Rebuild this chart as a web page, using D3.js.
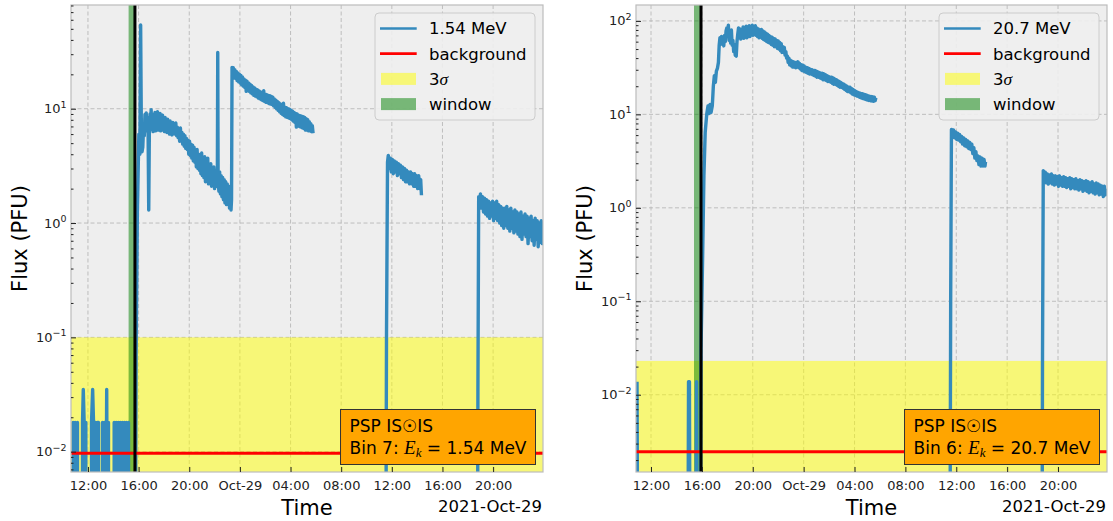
<!DOCTYPE html>
<html>
<head>
<meta charset="utf-8">
<script src="https://cdnjs.cloudflare.com/ajax/libs/d3/7.8.5/d3.min.js"></script>
<style>
body { margin: 0; background: #fff; }
svg { display: block; font-family: "DejaVu Sans", sans-serif; }
</style>
</head>
<body>
<div id="main"></div>
<script>
// [hours since 2021-10-28 00:00 UT, flux in PFU]; 0 = no counts, null = data gap
var flux154 = [
    [10.83,0],[10.83,0.018],[10.91,0],[10.99,0.018],[11.07,0],[11.17,0.018],[11.17,0],
    [11.57,0],[11.57,0.018],[11.63,0.035],[11.70,0.018],[11.77,0],[11.83,0.018],[11.83,0],
    [12.28,0],[12.28,0.018],[12.37,0.035],[12.44,0.018],[12.52,0],[12.60,0.018],[12.68,0],[12.76,0.018],[12.83,0.018],[12.83,0],
    [13.15,0],[13.15,0.018],[13.23,0],[13.31,0.018],[13.39,0],[13.48,0.035],[13.55,0],[13.62,0.018],[13.62,0],
    [14.07,0],[14.07,0.018],[14.15,0],[14.23,0.018],[14.31,0],[14.39,0.018],[14.47,0],[14.55,0.018],[14.63,0],[14.71,0.018],[14.79,0],[14.87,0.018],[14.95,0],[15.03,0.018],[15.11,0],[15.20,0.018],[15.20,0],
    [15.74,0],[15.80,0.07],[15.90,1.2],[16.02,6],[16.10,4],[16.16,54],[16.22,6],[16.27,4.2],[16.33,4.6],
    [16.40,7.4],[16.45,5.8],[16.50,8.9],[16.55,6.4],[16.60,9.2],[16.65,6.9],[16.70,8.4],[16.75,6.0],[16.80,1.3],[16.85,6.6],[16.90,9.0],[16.95,6.8],[16.99,9.8],
    [17.04,6.6],[17.09,8.9],[17.14,6.3],[17.19,8.6],[17.24,7.0],[17.29,9.3],[17.34,6.4],[17.39,8.4],[17.44,6.8],[17.49,9.4],[17.54,6.5],[17.59,8.2],[17.64,7.0],[17.69,9.1],[17.74,6.4],[17.79,8.7],[17.84,6.9],[17.89,8.8],[17.94,6.5],[17.99,8.3],
    [18.04,6.3],[18.09,8.4],[18.14,6.6],[18.19,7.9],[18.24,6.2],[18.29,8.1],[18.34,6.3],[18.39,7.7],[18.44,6.0],[18.49,7.8],[18.54,6.1],[18.59,7.4],[18.64,5.9],
    [18.70,7.6],[18.76,6.3],[18.82,7.2],[18.88,6.0],[18.94,7.5],[19.00,5.8],[19.06,6.9],[19.12,5.6],[19.18,6.6],[19.24,5.2],[19.30,6.8],[19.36,5.4],[19.42,6.2],[19.48,4.9],[19.54,6.0],[19.60,4.7],[19.66,5.8],[19.72,4.5],[19.78,5.5],[19.84,4.4],[19.90,5.3],[19.96,4.0],
    [20.02,5.2],[20.08,3.9],[20.14,4.9],[20.20,3.7],[20.26,4.8],[20.32,3.5],[20.38,4.6],[20.44,3.4],[20.50,4.2],[20.56,3.1],[20.62,4.4],[20.68,3.0],[20.74,4.0],[20.80,2.9],[20.86,3.9],[20.92,2.7],[20.98,4.1],
    [21.04,2.6],[21.10,3.6],[21.16,2.5],[21.22,3.8],[21.28,2.3],[21.34,3.4],[21.40,2.4],[21.46,3.7],[21.52,2.2],[21.58,3.2],[21.64,2.3],[21.70,3.3],[21.76,2.1],[21.82,3.0],[21.88,2.2],[21.94,3.1],
    [22.00,2.0],[22.06,2.9],[22.12,2.1],[22.18,2.8],[22.22,2.6],[22.25,31],[22.28,2.4],[22.34,1.9],[22.40,2.8],[22.46,1.8],[22.52,2.6],[22.58,1.7],[22.64,2.5],[22.70,1.6],[22.76,2.4],[22.82,1.5],[22.88,2.3],[22.94,1.45],
    [23.00,2.2],[23.06,1.5],[23.12,2.1],[23.18,1.35],[23.24,1.9],[23.30,1.3],[23.34,1.6],[23.38,23],
    [23.43,19.0],[23.48,22.8],[23.54,18.6],[23.60,22.0],[23.66,18.4],[23.72,21.2],[23.78,17.6],[23.84,20.6],[23.90,17.2],[23.96,20.0],
    [24.02,16.8],[24.08,19.6],[24.14,16.2],[24.20,19.0],[24.26,15.8],[24.32,18.2],[24.38,15.4],[24.44,17.8],[24.50,14.2],[24.56,17.4],[24.62,14.6],[24.68,16.8],[24.74,14.2],[24.80,16.4],[24.86,13.8],[24.92,16.0],[24.98,13.5],
    [25.04,15.5],[25.10,13.1],[25.16,15.2],[25.22,12.9],[25.28,14.8],[25.34,12.7],[25.40,14.6],[25.46,12.4],[25.52,14.3],[25.58,12.2],[25.64,14.0],[25.70,12.0],[25.76,13.8],[25.82,11.8],[25.88,14.4],[25.94,11.6],
    [26.00,13.4],[26.06,11.4],[26.12,13.3],[26.18,11.3],[26.24,13.1],[26.30,11.1],[26.36,13.0],[26.42,11.0],[26.48,12.8],[26.54,10.9],[26.60,12.6],[26.66,10.6],[26.72,12.2],[26.78,10.3],[26.84,11.9],[26.90,10.0],[26.96,11.6],
    [27.02,9.7],[27.08,11.3],[27.14,9.4],[27.20,11.0],[27.26,9.1],[27.32,10.7],[27.38,8.9],[27.44,11.2],[27.50,8.7],[27.56,10.3],[27.62,8.5],[27.68,10.2],[27.74,8.4],[27.80,10.0],[27.86,8.3],[27.92,9.9],[27.98,8.2],
    [28.04,9.7],[28.10,8.0],[28.16,9.5],[28.22,7.8],[28.28,9.3],[28.34,7.6],[28.40,9.1],[28.46,6.9],[28.52,9.0],[28.58,7.2],[28.64,8.8],[28.70,7.0],[28.76,8.7],[28.82,6.9],[28.88,8.6],[28.94,6.8],
    [29.00,8.5],[29.06,6.7],[29.12,8.4],[29.18,6.5],[29.24,8.2],[29.30,6.5],[29.36,8.0],[29.42,6.4],[29.48,7.7],[29.54,6.4],[29.60,7.4],[29.66,6.3],[29.72,7.1],[29.78,6.1],[29.82,null],
    [35.52,0],[35.58,0.11],[35.66,3.4],[35.72,3.9],[35.80,3.0],[35.88,3.7],[35.96,2.8],[36.04,3.6],[36.12,2.7],[36.20,3.5],[36.28,2.8],[36.36,3.4],[36.44,2.6],[36.52,3.3],[36.60,2.7],[36.68,3.2],[36.76,2.5],[36.84,3.1],[36.92,2.4],
    [37.00,3.0],[37.08,2.3],[37.16,2.9],[37.24,2.3],[37.32,2.8],[37.40,2.2],[37.48,2.8],[37.56,2.2],[37.64,2.7],[37.72,2.1],[37.80,2.7],[37.88,2.1],[37.96,2.6],
    [38.04,2.0],[38.12,2.6],[38.20,2.0],[38.28,2.4],[38.34,1.75],[38.38,null],
    [42.76,0],[42.80,0.035],[42.86,1.7],[42.92,1.45],[43.00,1.8],[43.08,1.35],[43.16,1.7],[43.24,1.25],[43.32,1.65],[43.40,1.2],[43.48,1.6],[43.56,1.15],[43.64,1.55],[43.72,1.1],[43.80,1.5],[43.88,1.15],[43.96,1.55],
    [44.04,1.05],[44.12,1.5],[44.20,1.1],[44.28,1.55],[44.36,1.05],[44.44,1.45],[44.52,1.0],[44.60,1.4],[44.68,0.95],[44.76,1.35],[44.84,0.9],[44.92,1.35],
    [45.00,0.95],[45.08,1.4],[45.16,0.9],[45.24,1.3],[45.32,0.85],[45.40,1.35],[45.48,0.9],[45.56,1.25],[45.64,0.82],[45.72,1.3],[45.80,0.85],[45.88,1.25],[45.96,0.8],
    [46.04,1.2],[46.12,0.76],[46.20,1.25],[46.28,0.72],[46.36,1.15],[46.44,0.8],[46.52,1.2],[46.60,0.76],[46.68,1.15],[46.76,0.66],[46.84,1.1],[46.92,0.76],
    [47.00,1.15],[47.08,0.7],[47.16,1.05],[47.24,0.64],[47.32,1.1],[47.40,0.72],[47.48,1.05],[47.56,0.62],[47.64,1.0],[47.72,0.68],[47.80,1.05],[47.88,0.66],[47.96,0.95]
];

var flux207 = [
    [10.90,0.0138],[10.96,0],[14.90,0],[14.95,0.0138],[15.02,0.0138],[15.07,0],[15.52,0],[15.58,0.0138],[15.64,0],
    [15.88,0],[15.93,0.03],[16.06,0.31],[16.16,2.2],[16.26,6.4],[16.38,10],[16.48,12.3],[16.56,10.2],[16.64,12.8],[16.72,10.5],[16.82,12.4],[16.90,20],[16.98,26],
    [17.06,22],[17.14,29],[17.22,31],[17.30,36],[17.36,55],[17.42,66],[17.48,56],[17.54,68],[17.60,58],[17.66,66],[17.72,54],[17.78,70],[17.84,60],[17.90,78],[17.96,84],
    [18.02,72],[18.08,90],[18.14,62],[18.20,76],[18.26,58],[18.32,80],[18.38,55],[18.44,62],[18.50,47],[18.56,56],[18.62,43],[18.70,42],[18.76,60],
    [18.82,72],[18.88,84],[18.94,66],[19.00,82],[19.06,64],[19.12,78],[19.18,66],[19.24,86],[19.30,65],[19.36,80],[19.42,68],[19.48,88],[19.54,66],[19.60,82],[19.66,70],[19.72,89],[19.78,68],[19.84,84],[19.90,72],[19.96,90],
    [20.02,70],[20.08,86],[20.14,72],[20.20,89],[20.26,70],[20.32,84],[20.38,68],[20.44,82],[20.50,66],[20.56,80],[20.62,67],[20.68,81],[20.74,65],[20.80,78],[20.86,63],[20.92,76],[20.98,62],
    [21.04,74],[21.10,60],[21.16,72],[21.22,59],[21.28,70],[21.34,58],[21.40,68],[21.46,56],[21.52,67],[21.58,55],[21.64,65],[21.70,53],[21.76,64],[21.82,53],[21.88,62],[21.94,51],
    [22.00,61],[22.06,50],[22.12,59],[22.18,48],[22.24,57],[22.30,46],[22.36,53],[22.42,46],[22.48,52],[22.54,43],[22.60,47],[22.66,40],[22.72,42],[22.78,36],[22.84,40],[22.90,34],[22.96,38],
    [23.02,33],[23.08,37],[23.14,32],[23.20,36.5],[23.26,32],[23.32,36],[23.38,31.5],[23.44,36],[23.50,32],[23.56,36.5],[23.62,31.5],[23.68,35],[23.74,30.5],[23.80,34],[23.86,29.5],[23.92,33.5],[23.98,29],
    [24.04,33],[24.10,28.5],[24.16,32],[24.22,28],[24.28,31.5],[24.34,27.5],[24.40,31],[24.46,27],[24.52,30.5],[24.58,27],[24.64,30],[24.70,26.5],[24.76,29.5],[24.82,26],[24.88,29.5],[24.94,25.5],
    [25.00,29],[25.06,25],[25.12,28.5],[25.18,25],[25.24,28],[25.30,24.5],[25.36,27.5],[25.42,24],[25.48,27.5],[25.54,23.5],[25.60,27],[25.66,23.5],[25.72,26.5],[25.78,23],[25.84,26],[25.90,22.5],[25.96,25.5],
    [26.02,22.5],[26.08,25],[26.14,22],[26.20,25],[26.26,21.5],[26.32,24.5],[26.38,21],[26.44,24],[26.50,21],[26.56,23.5],[26.62,20.5],[26.68,23],[26.74,20],[26.80,22.5],[26.86,19.5],[26.92,22],[26.98,19.5],
    [27.04,21.5],[27.10,19],[27.16,21],[27.22,18.5],[27.28,20.5],[27.34,18],[27.40,20],[27.46,17.5],[27.52,19.5],[27.58,17.5],[27.64,19.5],[27.70,17],[27.76,19],[27.82,16.5],[27.88,18.5],[27.94,16.2],
    [28.00,18],[28.06,16],[28.12,17.6],[28.18,15.7],[28.24,17.3],[28.30,15.5],[28.36,17],[28.42,15.2],[28.48,16.8],[28.54,15],[28.60,16.6],[28.66,14.8],[28.72,16.4],[28.78,14.6],[28.84,16.2],[28.90,14.4],[28.96,16],
    [29.02,14.2],[29.08,15.8],[29.14,14.1],[29.20,15.6],[29.26,14],[29.32,15.5],[29.38,13.9],[29.44,15.4],[29.50,13.8],[29.56,15.3],[29.62,14],[29.68,15],[29.72,null],
    [35.50,0],[35.56,0.1],[35.62,6.9],[35.70,5.8],[35.78,6.8],[35.86,5.6],[35.94,6.5],[36.02,5.4],[36.10,6.3],[36.18,5.3],[36.26,6.1],[36.34,5.1],[36.42,5.8],[36.50,4.8],[36.58,5.6],[36.66,4.6],[36.74,5.4],[36.82,4.5],[36.90,5.2],[36.98,4.3],
    [37.06,5.0],[37.14,4.2],[37.22,4.8],[37.30,3.8],[37.38,4.4],[37.46,3.4],[37.54,4.0],[37.62,3.2],[37.70,3.6],[37.78,2.9],[37.86,3.5],[37.94,2.8],
    [38.02,3.4],[38.10,2.8],[38.18,3.3],[38.26,2.8],[38.30,3.1],[38.34,null],
    [42.74,0],[42.78,0.0266],[42.84,2.5],[42.92,2.0],[43.00,2.4],[43.08,1.85],[43.16,2.3],[43.24,1.8],[43.32,2.25],[43.40,1.85],[43.48,2.3],[43.56,1.8],[43.64,2.2],[43.72,1.75],[43.80,2.2],[43.88,1.8],[43.96,2.15],
    [44.04,1.7],[44.12,2.2],[44.20,1.75],[44.28,2.1],[44.36,1.7],[44.44,2.15],[44.52,1.7],[44.60,2.1],[44.68,1.65],[44.76,2.05],[44.84,1.7],[44.92,2.1],
    [45.00,1.6],[45.08,2.05],[45.16,1.65],[45.24,2.0],[45.32,1.6],[45.40,2.05],[45.48,1.6],[45.56,1.95],[45.64,1.55],[45.72,2.0],[45.80,1.6],[45.88,1.95],[45.96,1.5],
    [46.04,1.9],[46.12,1.55],[46.20,1.95],[46.28,1.5],[46.36,1.9],[46.44,1.45],[46.52,1.85],[46.60,1.5],[46.68,1.9],[46.76,1.45],[46.84,1.8],[46.92,1.4],
    [47.00,1.85],[47.08,1.45],[47.16,1.8],[47.24,1.38],[47.32,1.75],[47.40,1.4],[47.48,1.7],[47.56,1.32],[47.64,1.7],[47.72,1.38],[47.80,1.6]
];

var bins = [7, 6];
var energies = ["1.54", "20.7"];
var background = [0.0097, 0.00245];
var threeSigma = [0.1, 0.023];
var windows = [[15.21, 15.71], [15.38, 15.93]];
var onsets = [15.71, 15.93];
var timeRanges = [[10.66, 47.94], [10.82, 47.85]];
var fluxRanges = [[0.00664, 80.8], [0.00149, 148]];
var decades = [[-2, -1, 0, 1], [-2, -1, 0, 1, 2]];
var tickHours = [12, 16, 20, 24, 28, 32, 36, 40, 44];
var tickLabels = ["12:00", "16:00", "20:00", "Oct-29", "04:00", "08:00", "12:00", "16:00", "20:00"];
var dateLabel = "2021-Oct-29";

var ctx = {
    w: 1113,
    h: 521,
    top: 5,
    bottom: 472,
    left: [71, 636],
    right: [543, 1107],
    BLUE: "#348ABD",
    SERIF: "'Liberation Serif', 'DejaVu Serif', serif"
};

var drawPanel = function(i, series){
    var x0 = ctx.left[i], x1 = ctx.right[i];
    var g = d3.select("svg").append("g");
    var x = d3.scaleLinear().domain(timeRanges[i]).range([x0, x1]);
    var y = d3.scaleLog().domain(fluxRanges[i]).range([ctx.bottom, ctx.top]);
    var floor = fluxRanges[i][0] / 20;

    g.append("clipPath").attr("id", "clip" + i)
        .append("rect")
        .attr("x", x0).attr("y", ctx.top)
        .attr("width", x1 - x0).attr("height", ctx.bottom - ctx.top);
    g.append("rect")
        .attr("x", x0).attr("y", ctx.top)
        .attr("width", x1 - x0).attr("height", ctx.bottom - ctx.top)
        .attr("fill", "#eeeeee");

    // dashed grid
    var grid = g.append("g")
        .attr("stroke", "#b2b2b2")
        .attr("stroke-width", 0.8)
        .attr("stroke-dasharray", "4,2.5");
    grid.selectAll(".vg").data(tickHours).enter().append("line")
        .attr("x1", function(d){ return x(d); })
        .attr("x2", function(d){ return x(d); })
        .attr("y1", ctx.top).attr("y2", ctx.bottom);
    grid.selectAll(".hg").data(decades[i]).enter().append("line")
        .attr("x1", x0).attr("x2", x1)
        .attr("y1", function(d){ return y(Math.pow(10, d)); })
        .attr("y2", function(d){ return y(Math.pow(10, d)); });

    var plot = g.append("g").attr("clip-path", "url(#clip" + i + ")");
    // 3 sigma band
    plot.append("rect")
        .attr("x", x0).attr("width", x1 - x0)
        .attr("y", y(threeSigma[i]))
        .attr("height", ctx.bottom - y(threeSigma[i]))
        .attr("fill", "yellow").attr("fill-opacity", 0.5);
    // window
    plot.append("rect")
        .attr("x", x(windows[i][0]))
        .attr("width", x(windows[i][1]) - x(windows[i][0]))
        .attr("y", ctx.top).attr("height", ctx.bottom - ctx.top)
        .attr("fill", "green").attr("fill-opacity", 0.5);
    // flux
    var line = d3.line()
        .defined(function(d){ return d[1] !== null; })
        .x(function(d){ return x(d[0]); })
        .y(function(d){ return y(Math.max(d[1], floor)); });
    plot.append("path").datum(series)
        .attr("d", line)
        .attr("fill", "none")
        .attr("stroke", ctx.BLUE)
        .attr("stroke-width", 3.4)
        .attr("stroke-linejoin", "round");
    // background level
    plot.append("line")
        .attr("x1", x0).attr("x2", x1)
        .attr("y1", y(background[i])).attr("y2", y(background[i]))
        .attr("stroke", "red").attr("stroke-width", 3);
    // onset
    plot.append("line")
        .attr("x1", x(onsets[i])).attr("x2", x(onsets[i]))
        .attr("y1", ctx.top).attr("y2", ctx.bottom)
        .attr("stroke", "black").attr("stroke-width", 3);

    // frame
    g.append("rect")
        .attr("x", x0).attr("y", ctx.top)
        .attr("width", x1 - x0).attr("height", ctx.bottom - ctx.top)
        .attr("fill", "none").attr("stroke", "#bcbcbc").attr("stroke-width", 1.2);

    // x axis
    var xg = g.append("g")
        .attr("transform", "translate(0," + ctx.bottom + ")")
        .style("color", "#222")
        .call(d3.axisBottom(x).tickValues(tickHours).tickSize(-5).tickPadding(9)
            .tickFormat(function(d, k){ return tickLabels[k]; }));
    xg.select(".domain").remove();
    xg.selectAll("text")
        .style("font-family", "DejaVu Sans")
        .style("font-size", "13px")
        .attr("fill", "#222");

    // y axis, major and minor
    var minors = [];
    for (var e = decades[i][0] - 1; e <= decades[i][decades[i].length - 1]; e++){
        for (var m = 2; m < 10; m++){
            var v = m * Math.pow(10, e);
            if (v > fluxRanges[i][0] && v < fluxRanges[i][1]) minors.push(v);
        }
    }
    var ymg = g.append("g")
        .attr("transform", "translate(" + x0 + ",0)")
        .style("color", "#222")
        .call(d3.axisLeft(y).tickValues(minors).tickSize(-2.5).tickFormat(""));
    ymg.select(".domain").remove();
    var yg = g.append("g")
        .attr("transform", "translate(" + x0 + ",0)")
        .style("color", "#222")
        .call(d3.axisLeft(y).tickValues(decades[i].map(function(d){ return Math.pow(10, d); }))
            .tickSize(-5).tickFormat(""));
    yg.select(".domain").remove();
    var yl = g.selectAll(".ylab").data(decades[i]).enter().append("text")
        .attr("x", x0 - 4.5)
        .attr("y", function(d){ return y(Math.pow(10, d)) + 4.5; })
        .attr("text-anchor", "end")
        .attr("fill", "#222")
        .style("font-size", "13px");
    yl.append("tspan").text("10");
    yl.append("tspan")
        .attr("dy", -5.5)
        .style("font-size", "9.5px")
        .text(function(d){ return d < 0 ? "\u2212" + (-d) : String(d); });

    // axis labels
    g.append("text")
        .attr("x", (x0 + x1) / 2).attr("y", 515)
        .attr("text-anchor", "middle")
        .style("font-size", "21px")
        .text("Time");
    g.append("text")
        .attr("x", x1 - 1).attr("y", 511.5)
        .attr("text-anchor", "end")
        .style("font-size", "16.5px")
        .text(dateLabel);
    g.append("text")
        .attr("transform", "translate(" + (x0 - 51) + "," + ((ctx.top + ctx.bottom) / 2) + ") rotate(-90)")
        .attr("text-anchor", "middle")
        .attr("dy", "0.35em")
        .style("font-size", "21px")
        .text("Flux (PFU)");

    // legend
    var lg = g.append("g").attr("transform", "translate(" + (x1 - 168) + ",13)");
    lg.append("rect")
        .attr("width", 160).attr("height", 107).attr("rx", 4)
        .attr("fill", "#eeeeee").attr("fill-opacity", 0.9)
        .attr("stroke", "#cccccc");
    var rows = [15.5, 40.7, 65.9, 91.1];
    lg.append("line").attr("x1", 5).attr("x2", 41.7).attr("y1", rows[0]).attr("y2", rows[0])
        .attr("stroke", ctx.BLUE).attr("stroke-width", 2.7);
    lg.append("line").attr("x1", 5).attr("x2", 41.7).attr("y1", rows[1]).attr("y2", rows[1])
        .attr("stroke", "red").attr("stroke-width", 2.7);
    lg.append("rect").attr("x", 6).attr("y", rows[2] - 6).attr("width", 35).attr("height", 12)
        .attr("fill", "yellow").attr("fill-opacity", 0.5);
    lg.append("rect").attr("x", 6).attr("y", rows[3] - 6).attr("width", 35).attr("height", 12)
        .attr("fill", "green").attr("fill-opacity", 0.5);
    var labels = [energies[i] + " MeV", "background", null, "window"];
    labels.forEach(function(t, k){
        var tx = lg.append("text").attr("x", 54).attr("y", rows[k]).attr("dy", "0.36em")
            .style("font-size", "16.5px");
        if (t !== null){ tx.text(t); }
        else {
            tx.append("tspan").text("3");
            tx.append("tspan").style("font-family", ctx.SERIF).style("font-style", "italic")
                .style("font-size", "17.5px").text("\u03c3");
        }
    });

    // instrument annotation
    var ag = g.append("g");
    var box = ag.append("rect")
        .attr("fill", "#ffa500").attr("stroke", "#333").attr("stroke-width", 1);
    var t1 = ag.append("text").style("font-size", "17px").text("PSP IS\u2609IS");
    var t2 = ag.append("text").style("font-size", "17px");
    t2.append("tspan").text("Bin " + bins[i] + ": ");
    t2.append("tspan").style("font-family", ctx.SERIF).style("font-style", "italic")
        .style("font-size", "19px").text("E");
    t2.append("tspan").attr("dy", 3.5).style("font-family", ctx.SERIF).style("font-style", "italic")
        .style("font-size", "13px").text("k");
    t2.append("tspan").attr("dy", -3.5).text(" = " + energies[i] + " MeV");
    var tw = Math.max(t1.node().getComputedTextLength(), t2.node().getComputedTextLength());
    var bw = tw + 18;
    var bx = x1 - 7.5 - bw;
    box.attr("x", bx).attr("y", 409.5).attr("width", bw).attr("height", 55);
    t1.attr("x", bx + 9).attr("y", 431.5);
    t2.attr("x", bx + 9).attr("y", 453.5);
};

var createViz = function(){
    var svgEl = d3.select("#main").append("svg");
    svgEl.attr("width", ctx.w);
    svgEl.attr("height", ctx.h);
    drawPanel(0, flux154);
    drawPanel(1, flux207);
};

createViz();
</script>
</body>
</html>
